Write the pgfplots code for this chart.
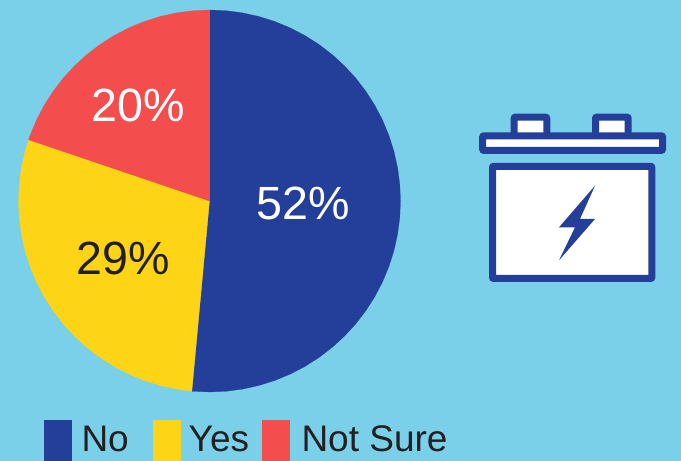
\documentclass[border=0pt]{standalone}
\usepackage{pgfplots}
\pgfplotsset{compat=1.18}
\usepackage{fontspec}
\setmainfont{Liberation Sans}
\definecolor{sky}{HTML}{7AD0E8}
\definecolor{navy}{HTML}{233F99}
\definecolor{sun}{HTML}{FDD516}
\definecolor{coral}{HTML}{F44D4E}
\definecolor{ink}{HTML}{231F20}
\begin{document}
\begin{tikzpicture}
\fill[sky] (0,0) rectangle (681pt,461pt);
% Pie slices: angle in degrees and radius. Shares 52, 29, 20 of 101,
% running clockwise from twelve o'clock.
\begin{axis}[
  at={(0,0)}, anchor=south west,
  width=681pt, height=461pt, scale only axis,
  xmin=-209.5, xmax=471.5, ymin=-260, ymax=201,
  hide axis, clip=false]
\addplot[navy, fill=navy, line width=0.2pt, data cs=polar] coordinates {
 (0,0) (90,191) (85,191) (80,191) (75,191) (70,191) (65,191) (60,191) (55,191)
 (50,191) (45,191) (40,191) (35,191) (30,191) (25,191) (20,191) (15,191) (10,191)
 (5,191) (0,191) (-5,191) (-10,191) (-15,191) (-20,191) (-25,191) (-30,191)
 (-35,191) (-40,191) (-45,191) (-50,191) (-55,191) (-60,191) (-65,191) (-70,191)
 (-75,191) (-80,191) (-85,191) (-90,191) (-95,191) (-95.3,191)} -- cycle;
\addplot[sun, fill=sun, line width=0.2pt, data cs=polar] coordinates {
 (0,0) (-95.3,191) (-100,191) (-105,191) (-110,191) (-115,191) (-120,191) (-125,191)
 (-130,191) (-135,191) (-140,191) (-145,191) (-150,191) (-155,191) (-160,191)
 (-165,191) (-170,191) (-175,191) (-180,191) (-185,191) (-190,191) (-195,191)
 (-198.7,191)} -- cycle;
\addplot[coral, fill=coral, line width=0.2pt, data cs=polar] coordinates {
 (0,0) (-198.7,191) (-200,191) (-205,191) (-210,191) (-215,191) (-220,191) (-225,191)
 (-230,191) (-235,191) (-240,191) (-245,191) (-250,191) (-255,191) (-260,191)
 (-265,191) (-270,191)} -- cycle;
\end{axis}
% Everything below is placed on a canvas with its origin at the top left.
\begin{scope}[x=1pt, y=-1pt, shift={(0pt,461pt)}]
  \node[white, font=\fontsize{46.6}{47}\selectfont] at (303,203.5) {52\%};
  \node[ink, font=\fontsize{46.6}{47}\selectfont] at (123,258.5) {29\%};
  \node[white, font=\fontsize{46.6}{47}\selectfont] at (138.5,105.5) {20\%};
  % legend
  \fill[navy] (44,420) rectangle (72,461);
  \fill[sun] (153,420) rectangle (181,461);
  \fill[coral] (262,420) rectangle (290,461);
  \node[ink, anchor=base west, inner sep=0pt, font=\fontsize{37}{37}\selectfont] at (81.3,452) {No};
  \node[ink, anchor=base west, inner sep=0pt, font=\fontsize{37}{37}\selectfont] at (188.5,452) {Yes};
  \node[ink, anchor=base west, inner sep=0pt, font=\fontsize{37}{37}\selectfont] at (301.3,452) {Not Sure};
  % battery icon
  \begin{scope}[line width=7pt, draw=navy, fill=white, rounded corners=0.6pt, line join=round]
    \filldraw (514.2,135) -- (514.2,117.2) -- (546.8,117.2) -- (546.8,135);
    \filldraw (595.5,135) -- (595.5,117.2) -- (628.2,117.2) -- (628.2,135);
    \filldraw (482.7,135.8) rectangle (662.5,150.4);
    \filldraw (492.5,166.3) rectangle (651.8,278.5);
  \end{scope}
  \fill[navy] (595,185.7) -- (559,227.3) -- (575,227.3) -- (559,260.3)
    -- (595,219) -- (580,219) -- cycle;
\end{scope}
\end{tikzpicture}
\end{document}
